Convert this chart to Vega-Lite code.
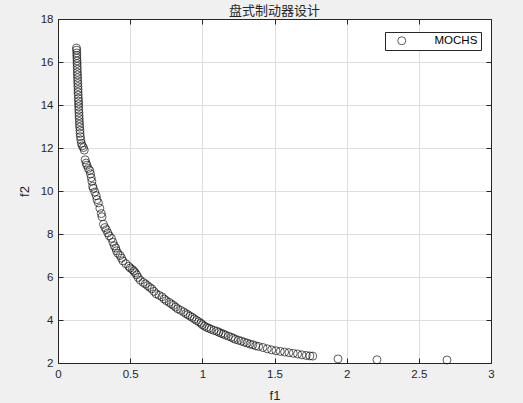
{
  "$schema": "https://vega.github.io/schema/vega-lite/v6.json",
  "width": 433,
  "height": 344,
  "autosize": {"type": "none"},
  "padding": {"left": 58, "top": 19, "right": 32, "bottom": 40},
  "background": "#f0f0f0",
  "title": {"text": "盘式制动器设计", "font": "Noto Sans CJK SC", "fontSize": 13, "fontWeight": "normal", "color": "#262626", "offset": -5, "anchor": "middle"},
  "config": {
    "view": {"fill": "white", "stroke": "#262626", "strokeWidth": 1},
    "axis": {"labelFont": "Liberation Sans", "titleFont": "Liberation Sans", "labelColor": "#262626", "titleColor": "#262626", "titleFontWeight": "normal", "labelFontSize": 11.5, "titleFontSize": 13, "domainColor": "#262626", "tickColor": "#262626", "gridColor": "#dedede", "gridWidth": 1}
  },
  "data": {"values": [
    {"f1":0.128,"f2":16.65,"series":"MOCHS"},{"f1":0.129,"f2":16.55,"series":"MOCHS"},{"f1":0.13,"f2":16.42,"series":"MOCHS"},{"f1":0.13,"f2":16.3,"series":"MOCHS"},{"f1":0.131,"f2":16.18,"series":"MOCHS"},{"f1":0.132,"f2":16.05,"series":"MOCHS"},{"f1":0.132,"f2":15.93,"series":"MOCHS"},{"f1":0.133,"f2":15.8,"series":"MOCHS"},{"f1":0.134,"f2":15.66,"series":"MOCHS"},{"f1":0.134,"f2":15.52,"series":"MOCHS"},{"f1":0.135,"f2":15.4,"series":"MOCHS"},{"f1":0.136,"f2":15.27,"series":"MOCHS"},{"f1":0.136,"f2":15.13,"series":"MOCHS"},{"f1":0.137,"f2":15.0,"series":"MOCHS"},{"f1":0.138,"f2":14.86,"series":"MOCHS"},{"f1":0.139,"f2":14.72,"series":"MOCHS"},{"f1":0.139,"f2":14.6,"series":"MOCHS"},{"f1":0.14,"f2":14.46,"series":"MOCHS"},{"f1":0.141,"f2":14.31,"series":"MOCHS"},{"f1":0.142,"f2":14.18,"series":"MOCHS"},{"f1":0.143,"f2":14.05,"series":"MOCHS"},{"f1":0.143,"f2":13.92,"series":"MOCHS"},{"f1":0.144,"f2":13.78,"series":"MOCHS"},{"f1":0.145,"f2":13.64,"series":"MOCHS"},{"f1":0.146,"f2":13.5,"series":"MOCHS"},{"f1":0.147,"f2":13.37,"series":"MOCHS"},{"f1":0.148,"f2":13.23,"series":"MOCHS"},{"f1":0.149,"f2":13.1,"series":"MOCHS"},{"f1":0.15,"f2":12.97,"series":"MOCHS"},{"f1":0.152,"f2":12.82,"series":"MOCHS"},{"f1":0.153,"f2":12.68,"series":"MOCHS"},{"f1":0.155,"f2":12.53,"series":"MOCHS"},{"f1":0.158,"f2":12.38,"series":"MOCHS"},{"f1":0.162,"f2":12.22,"series":"MOCHS"},{"f1":0.168,"f2":12.1,"series":"MOCHS"},{"f1":0.176,"f2":12.02,"series":"MOCHS"},{"f1":0.182,"f2":11.9,"series":"MOCHS"},
    {"f1":0.188,"f2":11.45,"series":"MOCHS"},{"f1":0.195,"f2":11.3,"series":"MOCHS"},{"f1":0.2,"f2":11.2,"series":"MOCHS"},{"f1":0.21,"f2":11.05,"series":"MOCHS"},{"f1":0.22,"f2":10.95,"series":"MOCHS"},{"f1":0.225,"f2":10.8,"series":"MOCHS"},{"f1":0.23,"f2":10.62,"series":"MOCHS"},{"f1":0.235,"f2":10.45,"series":"MOCHS"},{"f1":0.24,"f2":10.22,"series":"MOCHS"},{"f1":0.245,"f2":10.12,"series":"MOCHS"},{"f1":0.255,"f2":9.95,"series":"MOCHS"},{"f1":0.265,"f2":9.78,"series":"MOCHS"},{"f1":0.27,"f2":9.6,"series":"MOCHS"},{"f1":0.28,"f2":9.45,"series":"MOCHS"},{"f1":0.29,"f2":9.2,"series":"MOCHS"},{"f1":0.3,"f2":8.95,"series":"MOCHS"},{"f1":0.305,"f2":8.8,"series":"MOCHS"},{"f1":0.315,"f2":8.45,"series":"MOCHS"},{"f1":0.325,"f2":8.3,"series":"MOCHS"},{"f1":0.335,"f2":8.2,"series":"MOCHS"},{"f1":0.345,"f2":8.05,"series":"MOCHS"},{"f1":0.355,"f2":7.92,"series":"MOCHS"},{"f1":0.37,"f2":7.8,"series":"MOCHS"},{"f1":0.38,"f2":7.62,"series":"MOCHS"},{"f1":0.39,"f2":7.45,"series":"MOCHS"},{"f1":0.4,"f2":7.35,"series":"MOCHS"},{"f1":0.405,"f2":7.22,"series":"MOCHS"},{"f1":0.415,"f2":7.1,"series":"MOCHS"},{"f1":0.43,"f2":7.0,"series":"MOCHS"},{"f1":0.44,"f2":6.88,"series":"MOCHS"},{"f1":0.45,"f2":6.75,"series":"MOCHS"},{"f1":0.47,"f2":6.62,"series":"MOCHS"},{"f1":0.49,"f2":6.5,"series":"MOCHS"},{"f1":0.5,"f2":6.42,"series":"MOCHS"},{"f1":0.515,"f2":6.35,"series":"MOCHS"},{"f1":0.525,"f2":6.28,"series":"MOCHS"},{"f1":0.535,"f2":6.2,"series":"MOCHS"},{"f1":0.545,"f2":6.1,"series":"MOCHS"},{"f1":0.555,"f2":5.98,"series":"MOCHS"},{"f1":0.57,"f2":5.85,"series":"MOCHS"},{"f1":0.59,"f2":5.75,"series":"MOCHS"},{"f1":0.605,"f2":5.68,"series":"MOCHS"},{"f1":0.62,"f2":5.6,"series":"MOCHS"},{"f1":0.635,"f2":5.52,"series":"MOCHS"},{"f1":0.65,"f2":5.45,"series":"MOCHS"},{"f1":0.665,"f2":5.33,"series":"MOCHS"},{"f1":0.68,"f2":5.22,"series":"MOCHS"},{"f1":0.7,"f2":5.15,"series":"MOCHS"},{"f1":0.72,"f2":5.08,"series":"MOCHS"},{"f1":0.735,"f2":4.98,"series":"MOCHS"},{"f1":0.75,"f2":4.9,"series":"MOCHS"},{"f1":0.77,"f2":4.82,"series":"MOCHS"},{"f1":0.785,"f2":4.75,"series":"MOCHS"},{"f1":0.8,"f2":4.68,"series":"MOCHS"},{"f1":0.815,"f2":4.6,"series":"MOCHS"},{"f1":0.83,"f2":4.52,"series":"MOCHS"},{"f1":0.85,"f2":4.45,"series":"MOCHS"},{"f1":0.87,"f2":4.38,"series":"MOCHS"},{"f1":0.885,"f2":4.3,"series":"MOCHS"},{"f1":0.9,"f2":4.25,"series":"MOCHS"},{"f1":0.915,"f2":4.18,"series":"MOCHS"},{"f1":0.93,"f2":4.12,"series":"MOCHS"},{"f1":0.945,"f2":4.05,"series":"MOCHS"},{"f1":0.96,"f2":3.98,"series":"MOCHS"},{"f1":0.975,"f2":3.92,"series":"MOCHS"},{"f1":0.99,"f2":3.85,"series":"MOCHS"},{"f1":1.0,"f2":3.78,"series":"MOCHS"},{"f1":1.015,"f2":3.72,"series":"MOCHS"},{"f1":1.03,"f2":3.66,"series":"MOCHS"},{"f1":1.045,"f2":3.62,"series":"MOCHS"},{"f1":1.06,"f2":3.57,"series":"MOCHS"},{"f1":1.08,"f2":3.52,"series":"MOCHS"},{"f1":1.1,"f2":3.48,"series":"MOCHS"},{"f1":1.115,"f2":3.43,"series":"MOCHS"},{"f1":1.13,"f2":3.38,"series":"MOCHS"},{"f1":1.145,"f2":3.35,"series":"MOCHS"},{"f1":1.16,"f2":3.3,"series":"MOCHS"},{"f1":1.18,"f2":3.25,"series":"MOCHS"},{"f1":1.2,"f2":3.2,"series":"MOCHS"},{"f1":1.215,"f2":3.15,"series":"MOCHS"},{"f1":1.23,"f2":3.1,"series":"MOCHS"},{"f1":1.25,"f2":3.06,"series":"MOCHS"},{"f1":1.27,"f2":3.02,"series":"MOCHS"},{"f1":1.29,"f2":2.97,"series":"MOCHS"},{"f1":1.31,"f2":2.93,"series":"MOCHS"},{"f1":1.33,"f2":2.88,"series":"MOCHS"},{"f1":1.35,"f2":2.85,"series":"MOCHS"},{"f1":1.37,"f2":2.8,"series":"MOCHS"},{"f1":1.39,"f2":2.77,"series":"MOCHS"},{"f1":1.42,"f2":2.72,"series":"MOCHS"},{"f1":1.45,"f2":2.66,"series":"MOCHS"},{"f1":1.48,"f2":2.61,"series":"MOCHS"},{"f1":1.51,"f2":2.57,"series":"MOCHS"},{"f1":1.54,"f2":2.54,"series":"MOCHS"},{"f1":1.57,"f2":2.51,"series":"MOCHS"},{"f1":1.6,"f2":2.48,"series":"MOCHS"},{"f1":1.63,"f2":2.45,"series":"MOCHS"},{"f1":1.66,"f2":2.42,"series":"MOCHS"},{"f1":1.69,"f2":2.38,"series":"MOCHS"},{"f1":1.72,"f2":2.35,"series":"MOCHS"},{"f1":1.745,"f2":2.33,"series":"MOCHS"},{"f1":1.765,"f2":2.32,"series":"MOCHS"},{"f1":1.94,"f2":2.19,"series":"MOCHS"},{"f1":2.21,"f2":2.15,"series":"MOCHS"},{"f1":2.695,"f2":2.14,"series":"MOCHS"}
  ]},
  "layer": [
    {
      "mark": {"type": "point", "shape": "circle", "filled": false, "size": 64, "strokeWidth": 0.9},
      "encoding": {
        "x": {"field": "f1", "type": "quantitative", "scale": {"domain": [0, 3], "nice": false, "zero": false},
              "axis": {"title": "f1", "values": [0, 0.5, 1, 1.5, 2, 2.5, 3], "format": "~g", "tickSize": -5, "labelPadding": 10, "titlePadding": 10, "grid": true, "domain": true, "labelFlush": false}},
        "y": {"field": "f2", "type": "quantitative", "scale": {"domain": [2, 18], "nice": false, "zero": false},
              "axis": {"title": "f2", "values": [2, 4, 6, 8, 10, 12, 14, 16, 18], "format": "~g", "tickSize": -5, "labelPadding": 10, "titlePadding": 9, "grid": true, "domain": true, "labelFlush": false}},
        "color": {"field": "series", "type": "nominal", "scale": {"range": ["black"]},
                  "legend": {"title": null, "orient": "none", "legendX": 327, "legendY": 13, "strokeColor": "#262626", "fillColor": "white", "padding": 3, "symbolType": "circle", "symbolSize": 64, "symbolStrokeWidth": 0.9, "symbolFillColor": "transparent", "symbolStrokeColor": "black", "symbolOffset": 8, "labelOffset": 27, "labelFont": "Liberation Sans", "labelFontSize": 11.5, "labelColor": "#000000", "cornerRadius": 0}}
      }
    },
    {
      "mark": {"type": "point", "opacity": 0},
      "encoding": {
        "x": {"field": "f1", "type": "quantitative", "axis": {"orient": "top", "title": null, "labels": false, "values": [0, 0.5, 1, 1.5, 2, 2.5, 3], "tickSize": -5, "grid": false}},
        "y": {"field": "f2", "type": "quantitative", "axis": {"orient": "right", "title": null, "labels": false, "values": [2, 4, 6, 8, 10, 12, 14, 16, 18], "tickSize": -5, "grid": false}}
      }
    }
  ],
  "resolve": {"axis": {"x": "independent", "y": "independent"}}
}
